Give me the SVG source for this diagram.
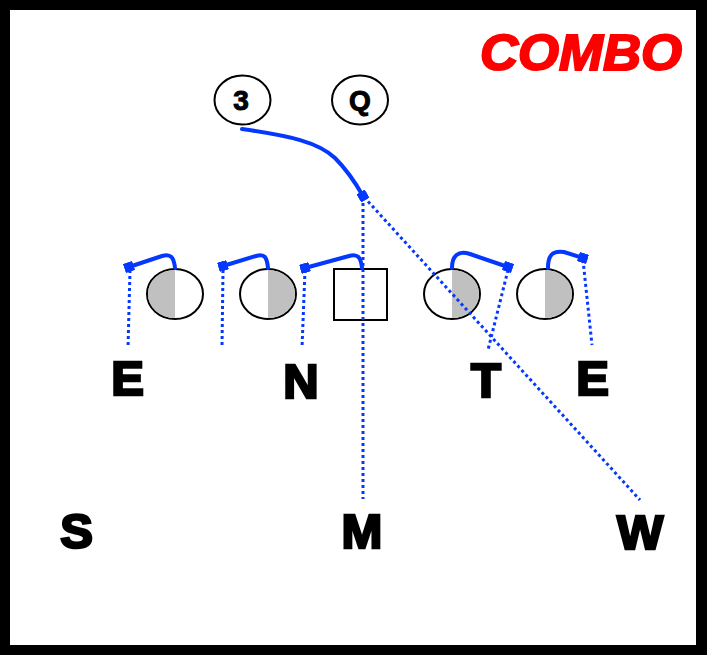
<svg xmlns="http://www.w3.org/2000/svg" width="713" height="655" viewBox="0 0 713 655">
<style>
.route{fill:none;stroke:#0538ff;stroke-width:4;stroke-linecap:round;marker-end:url(#sq)}
.dot{fill:none;stroke:#0538ff;stroke-width:3;stroke-dasharray:3 3}
.pl{fill:#fff;stroke:#000;stroke-width:2}
.half{fill:#c0c0c0}
.lbl{font-family:"Liberation Sans",Arial,sans-serif;font-weight:bold;font-size:49px;fill:#000;stroke:#000;stroke-width:2.6;stroke-linejoin:miter;text-anchor:middle}
.bk{font-family:"Liberation Sans",Arial,sans-serif;font-weight:bold;font-size:28px;fill:#000;stroke:#000;stroke-width:1;text-anchor:middle}
</style>
<defs>
<marker id="sq" viewBox="0 0 10 10" refX="5" refY="5" markerWidth="2.4" markerHeight="2.4" orient="auto" markerUnits="strokeWidth">
<rect x="0" y="0" width="10" height="10" fill="#0538ff"/>
</marker>
</defs>
<rect x="0" y="0" width="713" height="655" fill="#fff"/>
<rect x="0" y="0" width="707" height="655" fill="#000"/>
<rect x="10" y="10" width="686" height="635" fill="#fff"/>
<text x="581" y="70" font-family="Liberation Sans,Arial,sans-serif" font-weight="bold" font-style="italic" font-size="50" fill="#ff0000" stroke="#ff0000" stroke-width="2" text-anchor="middle" textLength="202" lengthAdjust="spacingAndGlyphs">COMBO</text>
<g id="back3"><ellipse class="pl" cx="242.5" cy="100" rx="28" ry="24.5"/><text class="bk" x="241" y="110">3</text></g>
<g id="qb"><ellipse class="pl" cx="360" cy="100" rx="28" ry="24.5"/><text class="bk" x="360" y="110">Q</text></g>
<g id="lineman1"><ellipse class="pl" cx="175" cy="294" rx="28" ry="25"/><path class="half" d="M175,270 A27,24 0 0 0 175,318 Z"/></g>
<g id="lineman2"><ellipse class="pl" cx="268" cy="294" rx="28" ry="25"/><path class="half" d="M268,270 A27,24 0 0 1 268,318 Z"/></g>
<g id="center"><rect class="pl" x="334" y="269" width="53" height="51"/></g>
<g id="lineman3"><ellipse class="pl" cx="452" cy="294" rx="28" ry="25"/><path class="half" d="M452,270 A27,24 0 0 1 452,318 Z"/></g>
<g id="lineman4"><ellipse class="pl" cx="545" cy="294" rx="28" ry="25"/><path class="half" d="M545,270 A27,24 0 0 1 545,318 Z"/></g>
<g id="connectors">
<path class="dot" d="M130,270 L128,348"/>
<path class="dot" d="M223,270 L222,347"/>
<path class="dot" d="M305,270 L302,348"/>
<path class="dot" d="M508,270 L488,350"/>
<path class="dot" d="M583,260 L592,345"/>
<path class="dot" d="M363,197 L363,499"/>
<path class="dot" d="M364,197 L640,500"/>
<path class="route" d="M175,268 C174,258 171,253 162,256 L129,267"/>
<path class="route" d="M268,268 C267,258 265,253 256,256 L223,266"/>
<path class="route" d="M362,268 C361,258 358,253 349,256 L305,268"/>
<path class="route" d="M452,268 C452,256 458,250 470,254 L508,267"/>
<path class="route" d="M548,268 C548,256 552,250 564,252 L583,258"/>
<path class="route" d="M242,129 C290,136 318,142 335,158 C345,168 355,182 363,196"/>
</g>
<g id="labels">
<text class="lbl" x="127.5" y="395">E</text>
<text class="lbl" x="301" y="398">N</text>
<text class="lbl" x="486" y="397">T</text>
<text class="lbl" x="592.5" y="395">E</text>
<text class="lbl" x="76.5" y="548">S</text>
<text class="lbl" x="362" y="548">M</text>
<text class="lbl" x="640" y="549">W</text>
</g>
</svg>
